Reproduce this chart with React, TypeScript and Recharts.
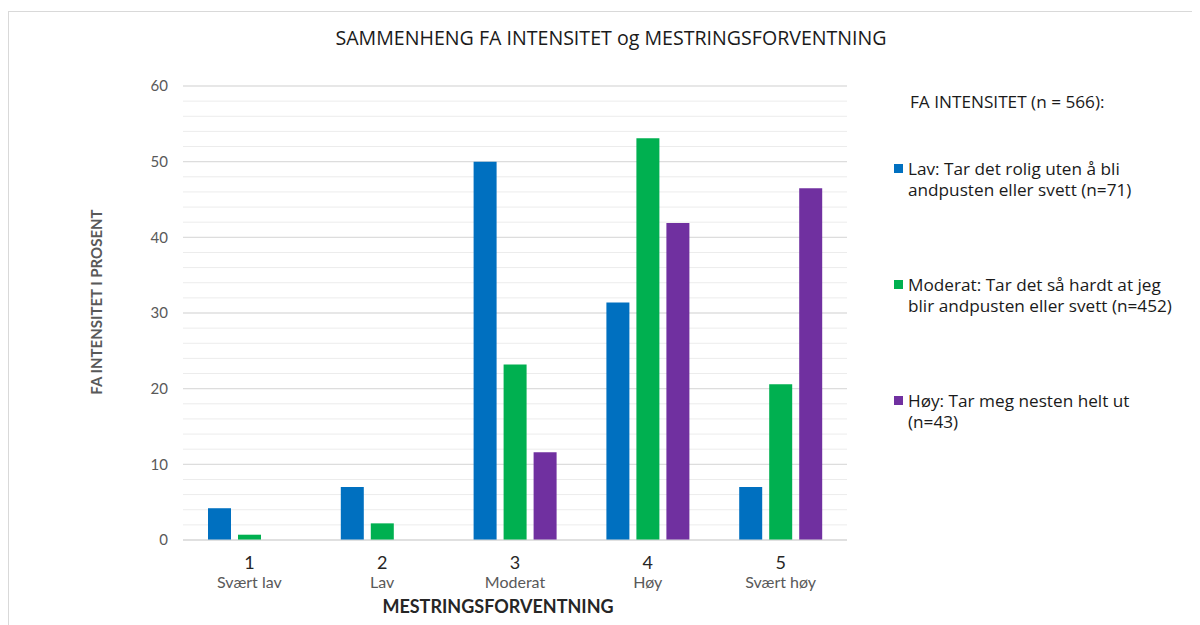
import { BarChart, Bar, XAxis, YAxis, CartesianGrid, Legend } from 'recharts'

// Andel (%) per mestringsforventning, fordelt på FA-intensitet
const categories = ['1', '2', '3', '4', '5']
const levelNames = ['Svært lav', 'Lav', 'Moderat', 'Høy', 'Svært høy']
const lavPct = [4.2, 7.0, 50.0, 31.4, 7.0]
const moderatPct = [0.7, 2.2, 23.2, 53.1, 20.6]
const hoyPct = [0, 0, 11.6, 41.9, 46.5]

const Y_MAX = 60
const majorTicks = [0, 10, 20, 30, 40, 50, 60]
const minorTicks = Array.from({ length: 31 }, (_, i) => i * 2)

const seriesOrder = ['lav', 'moderat', 'hoy']
const lavLabel = 'Lav: Tar det rolig uten å bli\nandpusten eller svett (n=71)'
const moderatLabel = 'Moderat: Tar det så hardt at jeg\nblir andpusten eller svett (n=452)'
const hoyLabel = 'Høy: Tar meg nesten helt ut\n(n=43)'

const BLUE = '#0070c0'
const GREEN = '#00b050'
const PURPLE = '#7030a0'

const CALIBRI = 'Lato, Carlito, Calibri, sans-serif'
const GOTHIC = '"Open Sans", "Century Gothic", sans-serif'

const data = categories.map((c, i) => ({
  kategori: c,
  lav: lavPct[i],
  moderat: moderatPct[i],
  hoy: hoyPct[i],
}))

function LevelTick({ x, y, payload, index }: any) {
  return (
    <g transform={`translate(${x},${y})`} fontFamily={CALIBRI}>
      <text textAnchor="middle" y={29} fill="#262626" fontSize={18}>
        {payload.value}
      </text>
      <text textAnchor="middle" y={48} fill="#595959" fontSize={16}>
        {levelNames[index]}
      </text>
    </g>
  )
}

function SeriesLegend({ payload }: any) {
  const items = [...(payload || [])].sort(
    (a: any, b: any) => seriesOrder.indexOf(a.dataKey) - seriesOrder.indexOf(b.dataKey),
  )
  return (
    <div style={{ fontFamily: GOTHIC, fontSize: 17.2, color: '#1a1a1a', width: 310 }}>
      <div style={{ lineHeight: '20px', paddingLeft: 16 }}>FA INTENSITET (n = 566):</div>
      {items.map((item: any, i: number) => (
        <div
          key={item.dataKey}
          style={{ display: 'flex', marginTop: i === 0 ? 46 : 74, lineHeight: '21px' }}
        >
          <span
            style={{
              width: 9,
              height: 9,
              background: item.color,
              marginTop: 6,
              marginRight: 5,
              flexShrink: 0,
            }}
          />
          <span style={{ whiteSpace: 'pre-line' }}>{item.value}</span>
        </div>
      ))}
    </div>
  )
}

// faint lines every 2 % inside the plot area
const minorLines = ({ offset }: any) =>
  minorTicks.map((v) => offset.top + offset.height * (1 - v / Y_MAX))

export default function App() {
  return (
    <div style={{ position: 'relative', width: 1192, height: 617, overflow: 'hidden' }}>
      <div
        style={{
          position: 'absolute',
          left: 0,
          top: 3,
          width: 1300,
          height: 700,
          borderTop: '1px solid #d9d9d9',
          borderLeft: '1px solid #d9d9d9',
        }}
      />
      <div
        style={{
          position: 'absolute',
          left: 253,
          top: 19,
          width: 700,
          textAlign: 'center',
          fontFamily: GOTHIC,
          fontSize: 19.6,
          lineHeight: '22px',
          color: '#1a1a1a',
        }}
      >
        SAMMENHENG FA INTENSITET og MESTRINGSFORVENTNING
      </div>
      <div
        style={{
          position: 'absolute',
          left: 88 - 150,
          top: 294 - 10,
          width: 300,
          height: 20,
          lineHeight: '20px',
          textAlign: 'center',
          transform: 'rotate(-90deg)',
          fontFamily: CALIBRI,
          fontWeight: 700,
          fontSize: 15,
          color: '#595959',
        }}
      >
        FA INTENSITET I PROSENT
      </div>
      <div
        style={{
          position: 'absolute',
          left: 490 - 150,
          top: 598 - 11,
          width: 300,
          lineHeight: '22px',
          textAlign: 'center',
          fontFamily: CALIBRI,
          fontWeight: 700,
          fontSize: 18,
          color: '#262626',
        }}
      >
        MESTRINGSFORVENTNING
      </div>
      <BarChart
        width={1192}
        height={617}
        data={data}
        margin={{ top: 78, right: 353, bottom: 25, left: 135 }}
        barSize={23}
        barGap={7}
        style={{ position: 'absolute', left: 0, top: 0 }}
      >
        <CartesianGrid
          vertical={false}
          horizontalCoordinatesGenerator={minorLines}
          stroke="#ececec"
        />
        <CartesianGrid vertical={false} stroke="#d9d9d9" />
        <XAxis
          dataKey="kategori"
          height={60}
          tickLine={false}
          tickSize={0}
          tickMargin={0}
          axisLine={{ stroke: '#d9d9d9' }}
          tick={<LevelTick />}
          interval={0}
        />
        <YAxis
          width={40}
          domain={[0, Y_MAX]}
          ticks={majorTicks}
          tickLine={false}
          tickSize={0}
          tickMargin={15}
          axisLine={false}
          tick={{ fill: '#595959', fontSize: 15, fontFamily: CALIBRI }}
        />
        <Legend
          layout="vertical"
          align="center"
          verticalAlign="middle"
          wrapperStyle={{ left: 886, top: 84, width: 310 }}
          content={<SeriesLegend />}
        />
        <Bar dataKey="lav" name={lavLabel} fill={BLUE} isAnimationActive={false} />
        <Bar dataKey="moderat" name={moderatLabel} fill={GREEN} isAnimationActive={false} />
        <Bar dataKey="hoy" name={hoyLabel} fill={PURPLE} isAnimationActive={false} />
      </BarChart>
    </div>
  )
}
